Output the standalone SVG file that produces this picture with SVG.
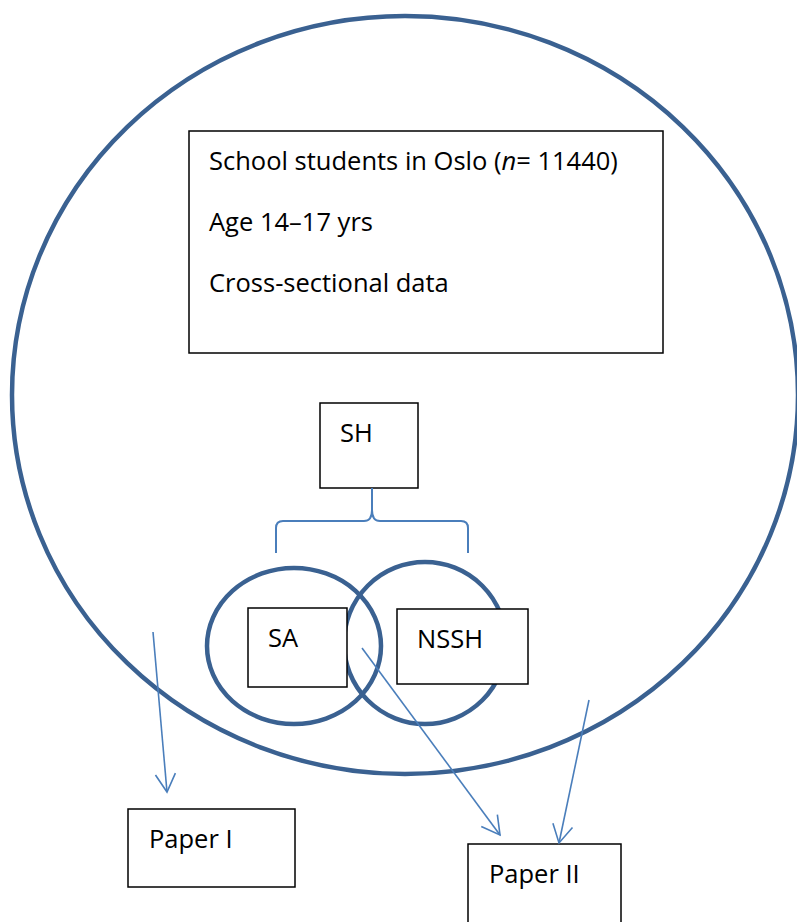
<svg xmlns="http://www.w3.org/2000/svg" width="797" height="922" viewBox="0 0 797 922">
  <style>
    .ring { fill: none; stroke: #3A6191; stroke-width: 4.5; }
    .box { fill: #ffffff; stroke: #000000; stroke-width: 1.5; }
    .lbl { font-family: "Open Sans", "Liberation Sans", sans-serif; font-size: 25.5px; fill: #000000; }
    .conn { fill: none; stroke: #4A7EBB; stroke-width: 1.6; }
    .brace { fill: none; stroke: #4A7EBB; stroke-width: 2; }
  </style>
  <defs>
    <marker id="arrow" markerUnits="userSpaceOnUse" viewBox="-20 -12 22 24" refX="0" refY="0" markerWidth="22" markerHeight="24" orient="auto">
      <path d="M-18,-10 L0,0 L-18,10" fill="none" stroke="#4A7EBB" stroke-width="1.6"/>
    </marker>
  </defs>
  <rect width="797" height="922" fill="#ffffff"/>

  <g id="population-circle">
    <ellipse class="ring" cx="405" cy="395" rx="393" ry="379"/>
  </g>

  <g id="venn">
    <ellipse id="circle-sa" class="ring" cx="294" cy="646" rx="87" ry="78"/>
    <ellipse id="circle-nssh" class="ring" cx="425" cy="643" rx="81" ry="81"/>
  </g>

  <g id="study-box">
    <rect class="box" x="189" y="131" width="474" height="222"/>
    <text class="lbl" x="209" y="170">School students in Oslo (<tspan font-style="italic">n</tspan>= 11440)</text>
    <text class="lbl" x="209" y="231">Age 14–17 yrs</text>
    <text class="lbl" x="209" y="292">Cross-sectional data</text>
  </g>

  <g id="sh">
    <rect class="box" x="320" y="403" width="98" height="85"/>
    <text class="lbl" x="340" y="442">SH</text>
  </g>

  <g id="sa">
    <rect class="box" x="248" y="608" width="99" height="79"/>
    <text class="lbl" x="268" y="647">SA</text>
  </g>

  <g id="nssh">
    <rect class="box" x="397" y="609" width="131" height="75"/>
    <text class="lbl" x="417" y="648">NSSH</text>
  </g>

  <g id="paper-1">
    <rect class="box" x="128" y="809" width="167" height="78"/>
    <text class="lbl" x="149" y="848">Paper I</text>
  </g>

  <g id="paper-2">
    <rect class="box" x="468" y="844" width="153" height="90"/>
    <text class="lbl" x="489" y="883">Paper II</text>
  </g>

  <g id="connectors">
    <path class="brace" d="M276,553 L276,528 Q276,521 283,521 L364,521 Q372,521 372,510 L372,488 M372,510 Q372,521 380,521 L461,521 Q468,521 468,528 L468,553"/>
    <line class="conn" x1="153" y1="632" x2="167" y2="792" marker-end="url(#arrow)"/>
    <line class="conn" x1="362" y1="648" x2="500" y2="835" marker-end="url(#arrow)"/>
    <line class="conn" x1="589" y1="700" x2="559" y2="843" marker-end="url(#arrow)"/>
  </g>
</svg>
